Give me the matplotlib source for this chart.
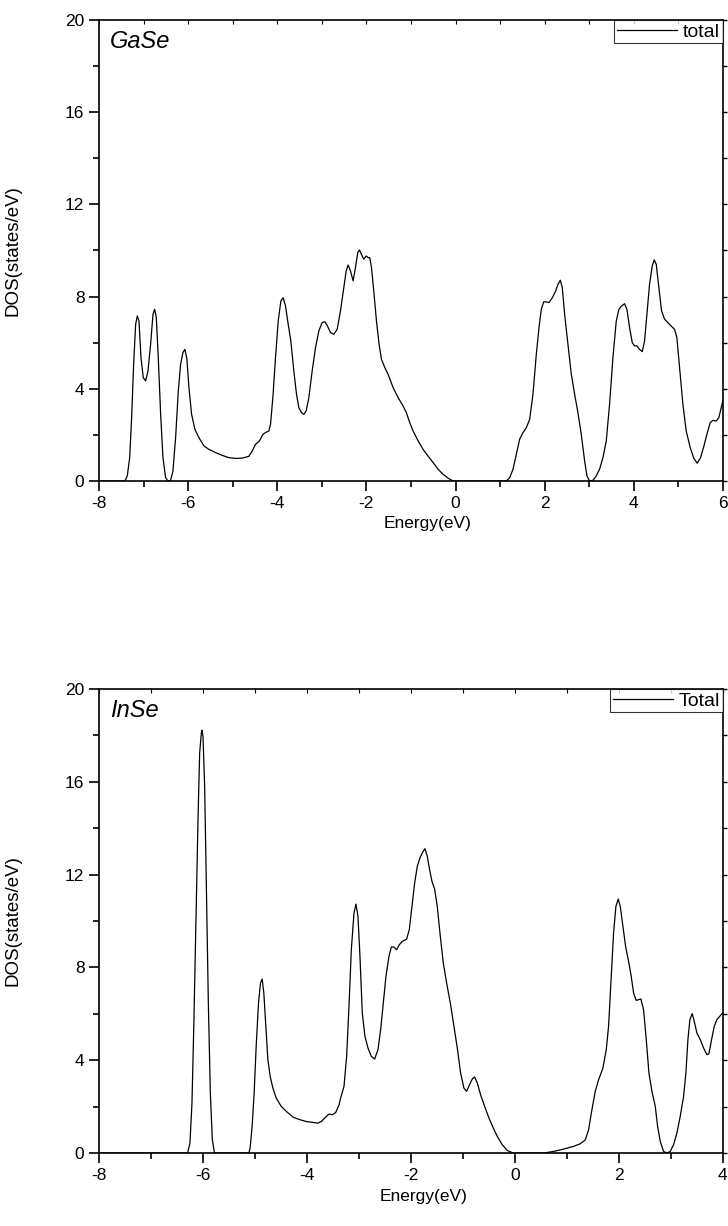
import matplotlib
matplotlib.use('Agg')
import matplotlib.pyplot as plt
from matplotlib.ticker import MultipleLocator

plt.rcParams['font.family'] = ['Liberation Sans', 'DejaVu Sans']
plt.rcParams['axes.unicode_minus'] = False

# GaSe total DOS
gase_e = [-8.0, -7.417, -7.365, -7.312, -7.268, -7.223, -7.178, -7.141, -7.103, -7.058,
          -7.006, -6.954, -6.901, -6.842, -6.789, -6.752, -6.714, -6.670, -6.617, -6.565,
          -6.505, -6.453, -6.393, -6.341, -6.281, -6.221, -6.169, -6.117, -6.072, -6.027,
          -5.982, -5.922, -5.848, -5.758, -5.646, -5.534, -5.384, -5.235, -5.085, -4.936,
          -4.786, -4.637, -4.562, -4.487, -4.398, -4.323, -4.263, -4.188, -4.151, -4.099,
          -4.039, -3.979, -3.919, -3.867, -3.815, -3.755, -3.695, -3.628, -3.568, -3.516,
          -3.456, -3.404, -3.351, -3.291, -3.217, -3.142, -3.067, -2.993, -2.933, -2.873,
          -2.806, -2.731, -2.656, -2.581, -2.507, -2.454, -2.410, -2.357, -2.298, -2.245,
          -2.193, -2.155, -2.111, -2.058, -2.006, -1.961, -1.924, -1.886, -1.834, -1.774,
          -1.715, -1.662, -1.587, -1.513, -1.401, -1.289, -1.176, -1.102, -1.027, -0.952,
          -0.840, -0.728, -0.616, -0.504, -0.392, -0.280, -0.167, -0.055, 1.140, 1.215,
          1.290, 1.365, 1.439, 1.514, 1.589, 1.664, 1.738, 1.813, 1.873, 1.925,
          1.978, 2.037, 2.097, 2.172, 2.247, 2.299, 2.351, 2.396, 2.448, 2.523,
          2.598, 2.673, 2.747, 2.822, 2.897, 2.949, 3.009, 3.084, 3.158, 3.233,
          3.308, 3.383, 3.457, 3.532, 3.607, 3.667, 3.726, 3.794, 3.846, 3.906,
          3.966, 4.018, 4.070, 4.130, 4.190, 4.242, 4.294, 4.354, 4.414, 4.459,
          4.504, 4.564, 4.623, 4.691, 4.765, 4.840, 4.915, 4.967, 5.027, 5.102,
          5.176, 5.266, 5.348, 5.423, 5.498, 5.565, 5.640, 5.714, 5.774, 5.849,
          5.909, 5.961, 5.998]
gase_dos = [0.0, 0.0, 0.22, 1.01, 2.75, 5.06, 6.8, 7.16, 6.94, 5.35,
            4.48, 4.34, 4.77, 5.93, 7.23, 7.45, 7.09, 5.35, 2.89, 1.01,
            0.14, 0.0, 0.03, 0.43, 1.88, 3.9, 5.06, 5.57, 5.71, 5.28,
            4.05, 2.89, 2.24, 1.88, 1.52, 1.37, 1.23, 1.11, 1.01, 0.98,
            0.99, 1.07, 1.3, 1.59, 1.74, 2.02, 2.1, 2.17, 2.46, 3.62,
            5.35, 6.94, 7.81, 7.95, 7.59, 6.8, 6.07, 4.77, 3.76, 3.18,
            2.96, 2.89, 3.04, 3.62, 4.77, 5.78, 6.51, 6.87, 6.91, 6.72,
            6.44, 6.36, 6.58, 7.38, 8.39, 9.11, 9.37, 9.11, 8.68, 9.26,
            9.91, 10.02, 9.83, 9.62, 9.76, 9.69, 9.69, 9.26, 8.24, 6.94,
            5.93, 5.28, 4.92, 4.63, 4.05, 3.62, 3.25, 2.96, 2.53, 2.17,
            1.74, 1.37, 1.08, 0.8, 0.51, 0.29, 0.12, 0.0, 0.0, 0.14,
            0.51, 1.16, 1.81, 2.1, 2.31, 2.68, 3.76, 5.5, 6.65, 7.45,
            7.77, 7.77, 7.74, 7.95, 8.24, 8.53, 8.71, 8.39, 7.23, 5.93,
            4.63, 3.76, 2.96, 2.02, 0.87, 0.22, 0.0, 0.03, 0.22, 0.51,
            1.01, 1.74, 3.33, 5.35, 6.94, 7.45, 7.59, 7.69, 7.45, 6.65,
            6.0, 5.86, 5.86, 5.71, 5.61, 6.07, 7.23, 8.53, 9.33, 9.59,
            9.4, 8.39, 7.38, 7.02, 6.87, 6.72, 6.58, 6.22, 4.92, 3.33,
            2.17, 1.45, 0.98, 0.77, 1.01, 1.45, 2.02, 2.53, 2.63, 2.6,
            2.75, 3.18, 3.47]

# InSe total DOS
inse_e = [-8.0, -6.296, -6.251, -6.212, -6.174, -6.135, -6.096, -6.064, -6.032, -6.019,
          -6.000, -5.968, -5.936, -5.897, -5.859, -5.820, -5.781, -5.749, -5.119, -5.093,
          -5.055, -5.016, -4.977, -4.932, -4.894, -4.862, -4.830, -4.791, -4.752, -4.707,
          -4.656, -4.592, -4.495, -4.399, -4.270, -4.141, -4.013, -3.884, -3.788, -3.723,
          -3.659, -3.576, -3.511, -3.447, -3.383, -3.353, -3.288, -3.237, -3.192, -3.147,
          -3.096, -3.058, -3.019, -2.981, -2.936, -2.885, -2.827, -2.763, -2.699, -2.635,
          -2.583, -2.532, -2.481, -2.423, -2.378, -2.327, -2.276, -2.224, -2.167, -2.083,
          -2.032, -1.981, -1.929, -1.878, -1.827, -1.776, -1.731, -1.686, -1.641, -1.596,
          -1.545, -1.494, -1.442, -1.378, -1.314, -1.237, -1.173, -1.109, -1.045, -0.981,
          -0.929, -0.872, -0.821, -0.776, -0.724, -0.660, -0.583, -0.500, -0.417, -0.340,
          -0.244, -0.147, -0.032, 0.551, 0.744, 0.936, 1.128, 1.256, 1.353, 1.417,
          1.481, 1.545, 1.609, 1.692, 1.756, 1.801, 1.846, 1.897, 1.942, 1.987,
          2.026, 2.077, 2.128, 2.186, 2.237, 2.282, 2.333, 2.378, 2.423, 2.474,
          2.526, 2.577, 2.635, 2.699, 2.744, 2.795, 2.859, 2.923, 2.987, 3.051,
          3.115, 3.179, 3.244, 3.288, 3.327, 3.365, 3.410, 3.449, 3.500, 3.564,
          3.628, 3.692, 3.731, 3.782, 3.833, 3.885, 3.949, 3.994]
inse_dos = [0.0, 0.0, 0.43, 2.16, 5.75, 10.06, 14.37, 17.24, 18.1, 18.22,
            17.96, 15.8, 11.49, 6.47, 2.59, 0.57, 0.03, 0.0, 0.0, 0.22,
            1.15, 2.59, 4.6, 6.47, 7.33, 7.5, 6.9, 5.46, 4.02, 3.3,
            2.8, 2.37, 2.01, 1.8, 1.55, 1.44, 1.36, 1.32, 1.29, 1.36,
            1.51, 1.68, 1.65, 1.75, 2.08, 2.37, 2.87, 4.17, 6.32, 8.76,
            10.34, 10.73, 10.2, 8.48, 6.03, 5.03, 4.53, 4.17, 4.05, 4.45,
            5.32, 6.47, 7.61, 8.48, 8.88, 8.88, 8.76, 8.98, 9.12, 9.22,
            9.63, 10.63, 11.64, 12.36, 12.72, 12.96, 13.12, 12.79, 12.21, 11.71,
            11.38, 10.63, 9.48, 8.19, 7.33, 6.39, 5.46, 4.53, 3.45, 2.8,
            2.66, 2.95, 3.19, 3.28, 3.02, 2.51, 2.01, 1.51, 1.08, 0.72,
            0.36, 0.11, 0.0, 0.0, 0.07, 0.17, 0.29, 0.4, 0.57, 1.01,
            1.87, 2.66, 3.16, 3.66, 4.45, 5.46, 7.33, 9.48, 10.63, 10.95,
            10.63, 9.77, 8.91, 8.26, 7.61, 6.9, 6.58, 6.61, 6.64, 6.18,
            4.89, 3.45, 2.66, 2.01, 1.15, 0.5, 0.07, 0.0, 0.07, 0.36,
            0.86, 1.58, 2.44, 3.45, 4.89, 5.75, 6.01, 5.68, 5.17, 4.89,
            4.53, 4.24, 4.28, 4.89, 5.46, 5.75, 5.92, 6.03]

fig = plt.figure(figsize=(7.28, 12.26), dpi=100)
ax1 = fig.add_axes([0.136, 0.6077, 0.857, 0.376])
ax2 = fig.add_axes([0.136, 0.0595, 0.857, 0.3785])


def style_axes(ax, xmax, name, xlab_x, xlab_y):
    ax.set_xlim(-8, xmax)
    ax.set_ylim(0, 20)
    ax.xaxis.set_major_locator(MultipleLocator(2))
    ax.xaxis.set_minor_locator(MultipleLocator(1))
    ax.yaxis.set_major_locator(MultipleLocator(4))
    ax.yaxis.set_minor_locator(MultipleLocator(2))
    for sp in ax.spines.values():
        sp.set_linewidth(1.2)
    ax.tick_params(which='major', direction='out', length=7, width=1.2,
                   labelsize=12.5, top=False, right=False)
    ax.tick_params(which='minor', direction='out', length=4, width=1.2,
                   top=False, right=False)
    # short mirrored ticks on top and right
    sec_x = ax.secondary_xaxis('top')
    sec_x.xaxis.set_major_locator(MultipleLocator(1))
    sec_x.tick_params(direction='in', length=3, width=0.8, labeltop=False)
    sec_x.spines['top'].set_visible(False)
    sec_y = ax.secondary_yaxis('right')
    sec_y.yaxis.set_major_locator(MultipleLocator(2))
    sec_y.tick_params(direction='out', length=3, width=1.0, labelright=False)
    sec_y.spines['right'].set_visible(False)
    ax.set_xlabel('Energy(eV)', fontsize=12.5)
    ax.set_ylabel('DOS(states/eV)', fontsize=13.5)
    ax.xaxis.set_label_coords(xlab_x, xlab_y)
    ax.yaxis.set_label_coords(-0.125, 0.5)
    ax.text(0.018, 0.978, name, transform=ax.transAxes, fontsize=17,
            style='italic', va='top', ha='left')
    leg = ax.legend(loc='upper right', bbox_to_anchor=(1.0, 1.0), borderaxespad=0,
                    fontsize=14, frameon=True, fancybox=False, handlelength=3.1,
                    handletextpad=0.3, borderpad=0.15)
    leg.get_frame().set_edgecolor('black')
    leg.get_frame().set_linewidth(0.8)


ax1.plot(gase_e, gase_dos, color='black', lw=0.9, label='total')
style_axes(ax1, 6, 'GaSe', 0.527, -0.075)

ax2.plot(inse_e, inse_dos, color='black', lw=0.9, label='Total')
style_axes(ax2, 4, 'InSe', 0.52, -0.078)

fig.savefig('out.png', dpi=100)
